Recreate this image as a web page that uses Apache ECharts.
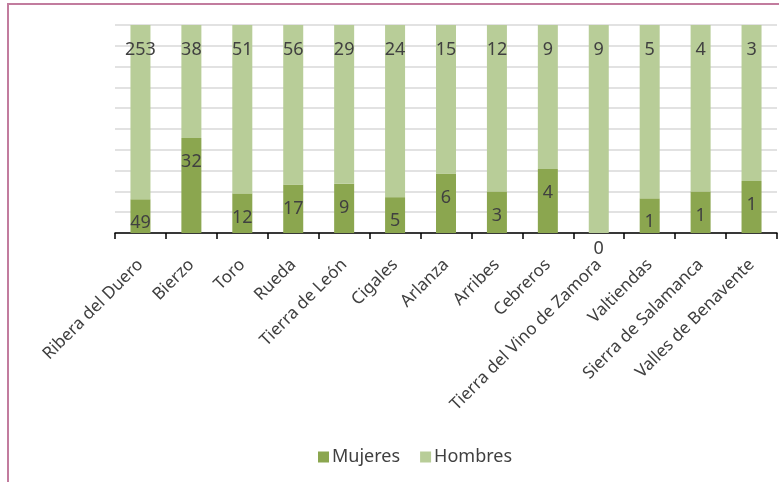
<!DOCTYPE html>
<html>
<head>
<meta charset="utf-8">
<script src="https://cdn.jsdelivr.net/npm/echarts@6/dist/echarts.min.js"></script>
<style>
html,body{margin:0;padding:0;background:#fff;}
#chart{width:779px;height:482px;}
</style>
</head>
<body>
<div id="chart"></div>
<script>
var categories = ["Ribera del Duero","Bierzo","Toro","Rueda","Tierra de León","Cigales","Arlanza","Arribes","Cebreros","Tierra del Vino de Zamora","Valtiendas","Sierra de Salamanca","Valles de Benavente"];
var mujeres = [49,32,12,17,9,5,6,3,4,0,1,1,1];
var hombres = [253,38,51,56,29,24,15,12,9,9,5,4,3];
var seriesNames = ["Mujeres","Hombres"];
var yTicks = [0,10,20,30,40,50,60,70,80,90,100];

var FONT = "'Noto Sans', 'Open Sans', sans-serif";
var TXT = '#404040';

var mujeresPct = mujeres.map(function(v,i){ return v/(v+hombres[i])*100; });
var hombresPct = hombres.map(function(v,i){ return v/(mujeres[i]+v)*100; });

var mujeresData = mujeresPct.map(function(p,i){
  if (mujeres[i] === 0) {
    return {value:p, label:{position:'bottom', distance:7}};
  }
  return p;
});

var chart = echarts.init(document.getElementById('chart'), null, {renderer:'canvas'});
chart.setOption({
  animation:false,
  backgroundColor:'#fff',
  textStyle:{fontFamily:FONT},
  grid:{left:115, right:2, top:25, bottom:249, containLabel:false},
  graphic:[{
    type:'polyline',
    shape:{points:[[8,482],[8,4],[779,4]]},
    style:{stroke:'#c27c9e', lineWidth:2, fill:null},
    silent:true
  }],
  legend:{
    data:seriesNames,
    left:313, top:443,
    itemWidth:11, itemHeight:11, itemGap:20,
    icon:'rect',
    textStyle:{fontFamily:FONT, fontSize:18, color:TXT, padding:[0,0,0,-2]}
  },
  xAxis:{
    type:'category',
    data:categories,
    boundaryGap:true,
    axisLine:{lineStyle:{color:'#000', width:1.5}},
    axisTick:{show:true, length:6, lineStyle:{color:'#000', width:1.5}},
    axisLabel:{rotate:45, interval:0, margin:29, fontFamily:FONT, fontSize:17, color:TXT}
  },
  yAxis:{
    type:'value',
    min:0, max:100, interval:10,
    axisLine:{show:false}, axisTick:{show:false}, axisLabel:{show:false},
    splitLine:{lineStyle:{color:'#d9d9d9', width:1.5}}
  },
  series:[
    {
      name:seriesNames[0], type:'bar', stack:'t', barWidth:20,
      data:mujeresData,
      itemStyle:{color:'#8ba64f'},
      label:{show:true, position:'insideTop', distance:15, fontFamily:FONT, fontSize:18, color:TXT,
        formatter:function(p){ return String(mujeres[p.dataIndex]); }}
    },
    {
      name:seriesNames[1], type:'bar', stack:'t', barWidth:20,
      data:hombresPct,
      itemStyle:{color:'#b8cd98'},
      label:{show:true, position:'insideTop', distance:16, fontFamily:FONT, fontSize:18, color:TXT,
        formatter:function(p){ return String(hombres[p.dataIndex]); }}
    }
  ]
});
</script>
</body>
</html>
